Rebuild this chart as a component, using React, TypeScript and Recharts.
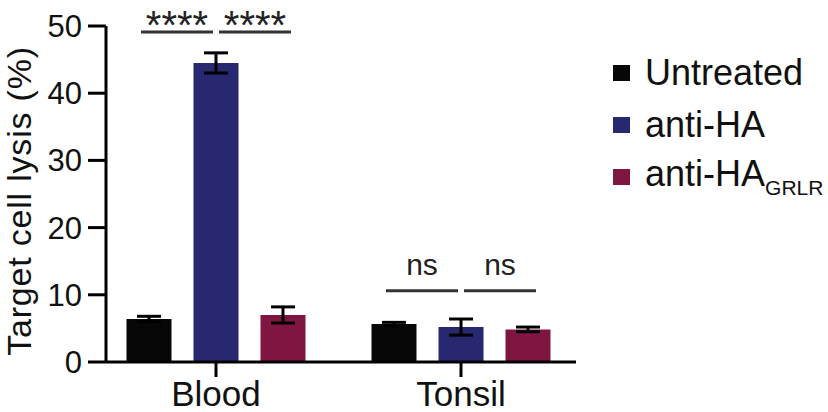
import { Bar, BarChart, ErrorBar, ReferenceLine, XAxis, YAxis } from "recharts";

const tissues = ["Blood", "Tonsil"];
const seriesNames = ["Untreated", "anti-HA", "anti-HA"];
const seriesSubs = ["", "", "GRLR"];
const seriesColors = ["#070707", "#27286f", "#7f1642"];

const untreated = [6.4, 5.65];
const antiHA = [44.5, 5.2];
const antiHAGrlr = [7.0, 4.85];
const untreatedErr = [0.4, 0.25];
const antiHAErr = [1.5, 1.2];
const antiHAGrlrErr = [1.2, 0.35];

const yTicks = [0, 10, 20, 30, 40, 50];

// significance brackets: tissue index, pair of series, label, bracket height
const comparisons = [
	{ tissue: 0, pair: [0, 1], label: "****", y: 49.1 },
	{ tissue: 0, pair: [1, 2], label: "****", y: 49.1 },
	{ tissue: 1, pair: [0, 1], label: "ns", y: 10.6 },
	{ tissue: 1, pair: [1, 2], label: "ns", y: 10.6 },
];

const data = tissues.map((name, i) => ({
	name,
	pos: i + 1,
	untreated: untreated[i],
	antiHA: antiHA[i],
	antiHAGrlr: antiHAGrlr[i],
	untreatedErr: untreatedErr[i],
	antiHAErr: antiHAErr[i],
	antiHAGrlrErr: antiHAGrlrErr[i],
}));

// bar step within a group, in x-axis units (bar 45px + gap 22px over a 245px band)
const BAR_STEP = 67 / 245;
const OUTER = 8 / 245;
const INNER = 3 / 245;

function bracketX(tissue: number, a: number, b: number) {
	const c = tissue + 1;
	const xa = c + (a - 1) * BAR_STEP + (a === 1 ? INNER : -OUTER);
	const xb = c + (b - 1) * BAR_STEP + (b === 1 ? -INNER : OUTER);
	return [xa, xb];
}

const FONT = "'Liberation Sans', Arial, Helvetica, sans-serif";

export default function App() {
	return (
		<div style={{ position: "relative", width: 828, height: 412, fontFamily: FONT }}>
			<style>{"body{margin:0}"}</style>
			<BarChart
				width={828}
				height={412}
				data={data}
				margin={{ top: 26, right: 252, bottom: 0, left: 0 }}
				barSize={45}
				barGap={22}
			>
				<XAxis
					type="number"
					dataKey="pos"
					domain={[1 - 110 / 245, 2 + 115 / 245]}
					allowDataOverflow
					ticks={[1, 2]}
					tickFormatter={(v: number) => tissues[v - 1] ?? ""}
					height={50}
					axisLine={{ stroke: "#000", strokeWidth: 3 }}
					tickLine={{ stroke: "#000", strokeWidth: 3 }}
					tickSize={15}
					tickMargin={4}
					tick={{ fill: "#111", fontSize: 35, fontFamily: FONT }}
				/>
				<YAxis
					domain={[0, 50]}
					ticks={yTicks}
					width={106}
					axisLine={{ stroke: "#000", strokeWidth: 3 }}
					tickLine={{ stroke: "#000", strokeWidth: 3 }}
					tickSize={18}
					tickMargin={6}
					tick={{ fill: "#111", fontSize: 31, fontFamily: FONT }}
					label={{
						content: () => (
							<text
								x={31}
								y={201}
								transform="rotate(-90 31 201)"
								textAnchor="middle"
								fontSize={34}
								letterSpacing={0.8}
								fill="#111"
								fontFamily={FONT}
							>
								Target cell lysis (%)
							</text>
						),
					}}
				/>
				<Bar dataKey="untreated" fill={seriesColors[0]} isAnimationActive={false}>
					<ErrorBar dataKey="untreatedErr" width={12} stroke="#000" strokeWidth={3} />
				</Bar>
				<Bar dataKey="antiHA" fill={seriesColors[1]} isAnimationActive={false}>
					<ErrorBar dataKey="antiHAErr" width={12} stroke="#000" strokeWidth={3} />
				</Bar>
				<Bar dataKey="antiHAGrlr" fill={seriesColors[2]} isAnimationActive={false}>
					<ErrorBar dataKey="antiHAGrlrErr" width={12} stroke="#000" strokeWidth={3} />
				</Bar>
				{comparisons.map((c, i) => {
					const [x1, x2] = bracketX(c.tissue, c.pair[0], c.pair[1]);
					const stars = c.label.startsWith("*");
					return (
						<ReferenceLine
							key={i}
							segment={[
								{ x: x1, y: c.y },
								{ x: x2, y: c.y },
							]}
							stroke="#333"
							strokeWidth={3}
							label={{
								value: c.label,
								position: "top",
								offset: stars ? -7 : 16,
								fontSize: stars ? 40 : 30,
								fill: "#222",
								fontFamily: FONT,
							}}
						/>
					);
				})}
			</BarChart>
			<div style={{ position: "absolute", left: 613, top: 0 }}>
				{seriesNames.map((name, i) => (
					<div
						key={i}
						style={{
							position: "absolute",
							top: 47 + i * 52,
							height: 52,
							display: "flex",
							alignItems: "center",
							whiteSpace: "nowrap",
						}}
					>
						<span
							style={{
								display: "inline-block",
								width: 17,
								height: 16,
								background: seriesColors[i],
								marginRight: 15,
							}}
						/>
						<span style={{ fontSize: 36, color: "#111", lineHeight: 1 }}>
							{name}
							{seriesSubs[i] && (
								<sub style={{ fontSize: 21, verticalAlign: "-0.45em" }}>{seriesSubs[i]}</sub>
							)}
						</span>
					</div>
				))}
			</div>
		</div>
	);
}
